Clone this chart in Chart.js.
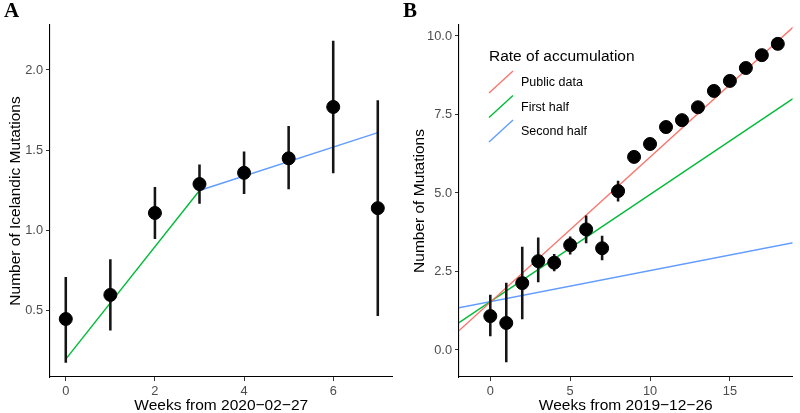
<!DOCTYPE html>
<html>
<head>
<meta charset="utf-8">
<script src="https://cdn.jsdelivr.net/npm/chart.js@4.4.1/dist/chart.umd.min.js"></script>
<style>
  body { margin: 0; background: #fff; width: 800px; height: 413px; position: relative; overflow: hidden; }
  canvas { position: absolute; top: 0; }
  #chartA { left: 0; }
  #chartB { left: 400px; }
  .tag { position: absolute; top: 0; font: bold 21px "Liberation Serif", serif; line-height: 1; color: #000; }
</style>
</head>
<body>
<canvas id="chartA" width="400" height="413"></canvas>
<canvas id="chartB" width="400" height="413"></canvas>
<div class="tag" style="left:4px">A</div>
<div class="tag" style="left:403px">B</div>
<script>
// ---- panel A: Icelandic mutations per week
const weeksA = [0, 1, 2, 3, 4, 5, 6, 7];
const icelandicMean = [0.45, 0.60, 1.11, 1.29, 1.36, 1.45, 1.77, 1.14];
const icelandicLow  = [0.18, 0.38, 0.95, 1.17, 1.23, 1.26, 1.36, 0.47];
const icelandicHigh = [0.71, 0.82, 1.27, 1.41, 1.49, 1.65, 2.18, 1.81];
const fitWeeksFirstA = [0, 3];
const fitFirstA = [0.20, 1.25];
const fitWeeksSecondA = [3, 7];
const fitSecondA = [1.25, 1.61];
const xTicksA = [0, 2, 4, 6];
const yTicksA = [0.5, 1.0, 1.5, 2.0];

// ---- panel B: mutations per week
const weeksB = [0, 1, 2, 3, 4, 5, 6, 7, 8, 9, 10, 11, 12, 13, 14, 15, 16, 17, 18];
const mutationsMean = [1.08, 0.86, 2.13, 2.83, 2.78, 3.34, 3.84, 3.24, 5.06, 6.15, 6.56, 7.10, 7.32, 7.73, 8.25, 8.57, 8.98, 9.39, 9.75];
const errWeeksB = [0, 1, 2, 3, 4, 5, 6, 7, 8];
const mutationsLow  = [0.45, -0.38, 0.99, 2.17, 2.52, 3.05, 3.41, 2.87, 4.74];
const mutationsHigh = [1.75, 2.13, 3.28, 3.57, 3.05, 3.60, 4.27, 3.63, 5.38];
const rateWeeks = [-2, 19];
const ratePublic = [0.60, 10.30];
const rateFirstHalf = [0.86, 8.02];
const rateSecondHalf = [1.34, 3.42];
const rateLabels = ['Public data', 'First half', 'Second half'];
const legendTitle = 'Rate of accumulation';
const xTicksB = [0, 5, 10, 15];
const yTicksB = [0, 2.5, 5, 7.5, 10];

const FONT = '"Liberation Sans", Arial, sans-serif';
const RED = '#F8766D', GREEN = '#00BA38', BLUE = '#619CFF';

const pts = (xs, ys) => xs.map((x, i) => ({ x: x, y: ys[i] }));
const bars = (xs, lo, hi) => xs.map((x, i) => ({ x: x, y: [lo[i], hi[i]] }));

const axis = (o) => ({
    type: 'linear',
    min: o.min,
    max: o.max,
    offset: false,
    grid: { display: true, offset: false, drawOnChartArea: false, drawTicks: true, tickLength: 4, color: '#333', lineWidth: 1 },
    border: { display: true, color: '#000', width: 1.1 },
    ticks: {
        color: '#4d4d4d', font: { family: FONT, size: 12.8 }, padding: o.pad,
        maxRotation: 0, autoSkip: false,
        callback: o.fmt
    },
    afterBuildTicks: s => { s.ticks = o.ticks.map(v => ({ value: v })); },
    afterFit: o.fit,
    title: {
        display: true, text: o.title, color: '#000',
        font: { family: FONT, size: 15.5, lineHeight: 1 },
        padding: o.titlePad
    }
});

const lineSet = (label, xs, ys, color) => ({
    type: 'line', label: label, data: pts(xs, ys),
    borderColor: color, borderWidth: 1.4, pointRadius: 0, fill: false, order: 3
});
const pointSet = (xs, ys) => ({
    type: 'scatter', data: pts(xs, ys),
    backgroundColor: '#000', borderColor: '#000', pointRadius: 6.5, pointHoverRadius: 6.5, order: 0
});
const errSet = (xs, lo, hi) => ({
    type: 'bar', data: bars(xs, lo, hi),
    backgroundColor: '#151515', barThickness: 1.9, grouped: false, order: 1
});

const legendB = {
    id: 'legendB',
    afterDraw(chart) {
        const ctx = chart.ctx;
        ctx.save();
        ctx.textBaseline = 'middle';
        ctx.fillStyle = '#000';
        ctx.font = '15.5px ' + FONT;
        ctx.fillText(legendTitle, 89, 57);
        chart.data.datasets.filter(d => d.legend).forEach((d, i) => {
            const y = 82 + i * 24.5;
            ctx.strokeStyle = d.borderColor;
            ctx.lineWidth = 1.4;
            ctx.beginPath();
            ctx.moveTo(89, y + 11);
            ctx.lineTo(113, y - 11);
            ctx.stroke();
            ctx.fillStyle = '#000';
            ctx.font = '12.5px ' + FONT;
            ctx.fillText(d.label, 121, y + 1);
        });
        ctx.restore();
    }
};

const common = {
    responsive: false,
    animation: false,
    devicePixelRatio: 1,
    plugins: { legend: { display: false }, tooltip: { enabled: false } }
};

new Chart(document.getElementById('chartA'), {
    type: 'scatter',
    data: {
        datasets: [
            pointSet(weeksA, icelandicMean),
            errSet(weeksA, icelandicLow, icelandicHigh),
            lineSet('First half', fitWeeksFirstA, fitFirstA, GREEN),
            lineSet('Second half', fitWeeksSecondA, fitSecondA, BLUE)
        ]
    },
    options: {
        ...common,
        layout: { padding: { top: 25, right: 3, left: 0, bottom: 0 } },
        scales: {
            x: axis({ min: -0.354, max: 7.33, ticks: xTicksA, pad: 3, fmt: v => v,
                      title: 'Weeks from 2020\u221202\u221227', titlePad: { top: 0, bottom: 0 },
                      fit: s => { s.height = 36; } }),
            y: axis({ min: 0.089, max: 2.28, ticks: yTicksA, pad: 3, fmt: v => v.toFixed(1),
                      title: 'Number of Icelandic Mutations', titlePad: { top: 8, bottom: 0 },
                      fit: s => { s.width = 50; } })
        }
    }
});

const linesB = [
    lineSet(rateLabels[0], rateWeeks, ratePublic, RED),
    lineSet(rateLabels[1], rateWeeks, rateFirstHalf, GREEN),
    lineSet(rateLabels[2], rateWeeks, rateSecondHalf, BLUE)
];
linesB.forEach(d => { d.legend = true; });

new Chart(document.getElementById('chartB'), {
    type: 'scatter',
    data: {
        datasets: [
            pointSet(weeksB, mutationsMean),
            errSet(errWeeksB, mutationsLow, mutationsHigh),
            ...linesB
        ]
    },
    options: {
        ...common,
        layout: { padding: { top: 25, right: 0, left: 0, bottom: 0 } },
        scales: {
            x: axis({ min: -1.96, max: 18.92, ticks: xTicksB, pad: 3, fmt: v => v,
                      title: 'Weeks from 2019\u221212\u221226', titlePad: { top: 0, bottom: 0 },
                      fit: s => { s.height = 36; } }),
            y: axis({ min: -0.86, max: 10.35, ticks: yTicksB, pad: 3, fmt: v => v.toFixed(1),
                      title: 'Number of Mutations', titlePad: { top: 12, bottom: 0 },
                      fit: s => { s.width = 59; } })
        }
    },
    plugins: [legendB]
});
</script>
</body>
</html>
